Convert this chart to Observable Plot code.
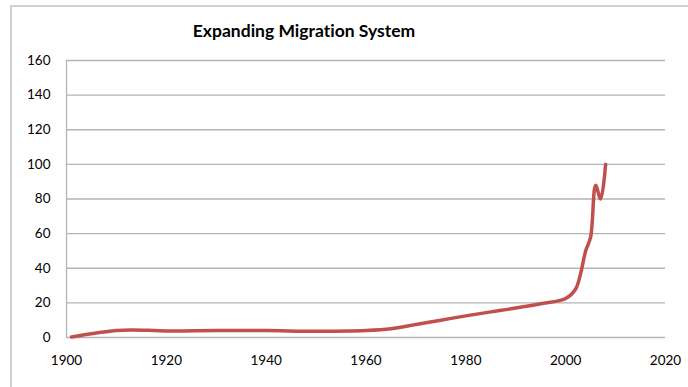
<!DOCTYPE html>
<html>
<head>
<meta charset="utf-8">
<script src="https://cdn.jsdelivr.net/npm/d3@7"></script>
<script src="https://cdn.jsdelivr.net/npm/@observablehq/plot@0.6"></script>
<style>
  html, body { margin: 0; padding: 0; background: #fff; }
  #wrap { position: relative; width: 688px; height: 387px; overflow: hidden; font-family: Lato, "Open Sans", sans-serif; font-variant-ligatures: none; }
  #frame { position: absolute; left: 10px; top: 5px; width: 700px; height: 400px; border-left: 2px solid #d0d0d0; border-top: 2px solid #d0d0d0; box-sizing: border-box; }
  #title { position: absolute; left: 0; width: 608px; top: 20px; text-align: center; font-weight: bold; font-size: 17.5px; color: #000; font-variant-ligatures: none; }
  #chart { position: absolute; left: 0; top: 0; }
</style>
</head>
<body>
<div id="wrap">
  <div id="frame"></div>
  <div id="chart"></div>
  <div id="title">Expanding Migration System</div>
</div>
<script>
const years  = [1901, 1905, 1910, 1913, 1920, 1930, 1940, 1950, 1960, 1965, 1970, 1975, 1980, 1985, 1990, 1995, 2000, 2002, 2003, 2004, 2005, 2006, 2007, 2008];
const values = [0.3, 2.2, 4, 4.4, 3.8, 4, 4, 3.6, 4, 5, 7.5, 10, 12.5, 14.8, 17, 19.5, 22.5, 28, 37, 50, 58, 88, 80, 100];
const xTicks = [1900, 1920, 1940, 1960, 1980, 2000, 2020];
const yTicks = [0, 20, 40, 60, 80, 100, 120, 140, 160];

const data = years.map((y, i) => ({year: y, value: values[i]}));

const chart = Plot.plot({
  width: 688,
  height: 387,
  marginLeft: 66,
  marginRight: 23,
  marginTop: 60,
  marginBottom: 50,
  style: {fontFamily: "Lato, 'Open Sans', sans-serif", fontSize: "13.5px", color: "#000", background: "transparent"},
  x: {domain: [1900, 2020], ticks: xTicks, tickFormat: d => String(d), tickSize: 0, tickPadding: 18, label: null},
  y: {domain: [0, 160], ticks: yTicks, tickSize: 0, tickPadding: 16, label: null},
  marks: [
    Plot.gridY(yTicks, {stroke: "#b4b4b4", strokeOpacity: 1, strokeWidth: 1.3}),
    Plot.ruleX([1900], {stroke: "#b4b4b4", strokeWidth: 1.3}),
    Plot.line(data, {x: "year", y: "value", curve: "catmull-rom", stroke: "#C0504D", strokeWidth: 3.5}),
    Plot.axisX({ticks: xTicks, tickFormat: d => String(d), tickSize: 0, tickPadding: 18}),
    Plot.axisY({ticks: yTicks, tickSize: 0, tickPadding: 16})
  ]
});
document.getElementById("chart").appendChild(chart);
</script>
</body>
</html>
